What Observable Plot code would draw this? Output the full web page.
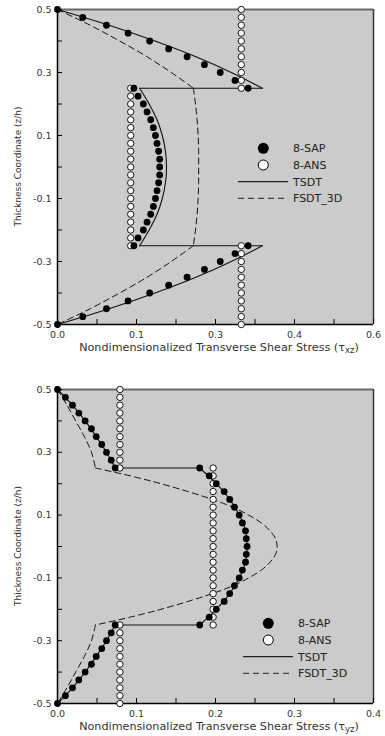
<!DOCTYPE html>
<html><head><meta charset="utf-8">
<script src="https://cdn.jsdelivr.net/npm/d3@7"></script>
<script src="https://cdn.jsdelivr.net/npm/@observablehq/plot@0.6"></script>
<style>
body{margin:0;background:#fff;font-family:"DejaVu Sans",sans-serif;}
.chart{position:relative;width:385px;}
.chart svg{display:block;}
.legend{position:absolute;}
</style></head><body>
<div id="c1" class="chart"></div>
<div id="c2" class="chart"></div>
<script>
// ---- thickness coordinates (z/h) per layer ----
const zTop = [0.5,0.475,0.45,0.425,0.4,0.375,0.35,0.325,0.3,0.275,0.25];
const zMid = [0.25,0.225,0.2,0.175,0.15,0.125,0.1,0.075,0.05,0.025,0,-0.025,-0.05,-0.075,-0.1,-0.125,-0.15,-0.175,-0.2,-0.225,-0.25];
const zBot = [-0.25,-0.275,-0.3,-0.325,-0.35,-0.375,-0.4,-0.425,-0.45,-0.475,-0.5];
const zTopC = [0.5,0.45,0.4,0.35,0.3,0.25];
const zMidC = [0.25,0.2,0.15,0.1,0.05,0,-0.05,-0.1,-0.15,-0.2,-0.25];
const zBotC = [-0.25,-0.3,-0.35,-0.4,-0.45,-0.5];

// ---- chart 1: tau_xz ----
const sapXzTop = [0,0.048,0.093,0.134,0.175,0.211,0.246,0.279,0.309,0.337,0.362];
const sapXzMid = [0.145,0.153,0.163,0.170,0.177,0.182,0.186,0.189,0.192,0.194,0.194,0.194,0.192,0.189,0.186,0.182,0.177,0.170,0.163,0.153,0.145];
const sapXzBot = [0.362,0.337,0.309,0.279,0.246,0.211,0.175,0.134,0.093,0.048,0];
const ansXzTop = [0.349,0.349,0.349,0.349,0.349,0.349,0.349,0.349,0.349,0.349,0.349];
const ansXzMid = [0.139,0.139,0.139,0.139,0.139,0.139,0.139,0.139,0.139,0.139,0.139,0.139,0.139,0.139,0.139,0.139,0.139,0.139,0.139,0.139,0.139];
const ansXzBot = [0.349,0.349,0.349,0.349,0.349,0.349,0.349,0.349,0.349,0.349,0.349];
const tsdtXzTop = [0,0.098,0.185,0.263,0.330,0.389];
const tsdtXzMid = [0.156,0.174,0.189,0.199,0.205,0.207,0.205,0.199,0.189,0.174,0.156];
const tsdtXzBot = [0.389,0.330,0.263,0.185,0.098,0];
const fsdtXzTop = [0,0.062,0.118,0.170,0.216,0.258];
const fsdtXzMid = [0.258,0.262,0.265,0.267,0.268,0.268,0.268,0.267,0.265,0.262,0.258];
const fsdtXzBot = [0.258,0.216,0.170,0.118,0.062,0];
const xzTicks = [0,0.075,0.15,0.225,0.3,0.375,0.45,0.525,0.6];
const xzLabelVals = [0,0.15,0.3,0.45,0.6];
const xzLabels = ["0.0","0.1","0.3","0.4","0.6"];

// ---- chart 2: tau_yz ----
const sapYzTop = [0,0.010,0.019,0.027,0.035,0.043,0.049,0.056,0.062,0.068,0.073];
const sapYzMid = [0.180,0.192,0.201,0.211,0.218,0.224,0.230,0.234,0.238,0.239,0.240,0.239,0.238,0.234,0.230,0.224,0.218,0.211,0.201,0.192,0.180];
const sapYzBot = [0.073,0.068,0.062,0.056,0.049,0.043,0.035,0.027,0.019,0.010,0];
const ansYzTop = [0.079,0.079,0.079,0.079,0.079,0.079,0.079,0.079,0.079,0.079,0.079];
const ansYzMid = [0.197,0.197,0.197,0.197,0.197,0.197,0.197,0.197,0.197,0.197,0.197,0.197,0.197,0.197,0.197,0.197,0.197,0.197,0.197,0.197,0.197];
const ansYzBot = [0.079,0.079,0.079,0.079,0.079,0.079,0.079,0.079,0.079,0.079,0.079];
const tsdtYzTop = [0,0.019,0.035,0.049,0.062,0.073];
const tsdtYzMid = [0.180,0.201,0.218,0.230,0.238,0.240,0.238,0.230,0.218,0.201,0.180];
const tsdtYzBot = [0.073,0.062,0.049,0.035,0.019,0];
const fsdtYzTop = [0,0.012,0.023,0.034,0.043,0.048];
const fsdtYzMid = [0.048,0.092,0.131,0.165,0.196,0.222,0.242,0.258,0.269,0.276,0.278,0.276,0.269,0.258,0.242,0.222,0.196,0.165,0.131,0.092,0.048];
const fsdtYzBot = [0.048,0.043,0.034,0.023,0.012,0];
const yzTicks = [0,0.05,0.1,0.15,0.2,0.25,0.3,0.35,0.4];
const yzLabelVals = [0,0.1,0.2,0.3,0.4];
const yzLabels = ["0.0","0.1","0.2","0.3","0.4"];

// ---- shared y axis ----
const zTicks = [-0.5,-0.4,-0.3,-0.2,-0.1,0,0.1,0.2,0.3,0.4,0.5];
const zLabelVals = [0.5,0.3,0.1,-0.1,-0.3,-0.5];
const zLabels = ["0.5","0.3","0.1","-0.1","-0.3","-0.5"];

const legendNames = ["8-SAP","8-ANS","TSDT","FSDT_3D"];

const rows = (zs, xs, g) => zs.map((z, i) => ({z, x: xs[i], g}));

function draw(el, o) {
  const tsdtRows = [
    ...rows(o.zTC, o.tsdt[0], "t"),
    ...rows([0.25, 0.25], [o.tsdt[0][o.tsdt[0].length-1], o.tsdt[1][0]], "j1"),
    ...rows(o.zMC_t, o.tsdt[1], "m"),
    ...rows([-0.25, -0.25], [o.tsdt[1][o.tsdt[1].length-1], o.tsdt[2][0]], "j2"),
    ...rows(o.zBC, o.tsdt[2], "b")
  ];
  const fsdtRows = [
    ...rows(o.zTC, o.fsdt[0], "t"),
    ...rows(o.zMC_f, o.fsdt[1], "m"),
    ...rows(o.zBC, o.fsdt[2], "b")
  ];
  const sapRows = [...rows(zTop, o.sap[0], "t"), ...rows(zMid, o.sap[1], "m"), ...rows(zBot, o.sap[2], "b")];
  const ansRows = [...rows(zTop, o.ans[0], "t"), ...rows(zMid, o.ans[1], "m"), ...rows(zBot, o.ans[2], "b")];
  const xFmt = new Map(o.xLabelVals.map((v, i) => [v, o.xLabels[i]]));
  const yFmt = new Map(zLabelVals.map((v, i) => [v, zLabels[i]]));
  const xmax = o.xDomain[1];

  const svg = Plot.plot({
    width: 385, height: o.height,
    marginLeft: 57, marginRight: 12, marginTop: o.marginTop, marginBottom: o.marginBottom,
    style: {fontFamily: "DejaVu Sans", fontSize: "9.5px", color: "#333", background: "#fff"},
    x: {domain: o.xDomain},
    y: {domain: [-0.5, 0.5]},
    marks: [
      Plot.frame({fill: "#cbcbcb", stroke: null}),
      Plot.ruleY([0.5], {stroke: "#6a6a6a", strokeWidth: 2}),
      Plot.ruleX([xmax], {stroke: "#333", strokeWidth: 1.5}),
      Plot.ruleX([0], {stroke: "#000", strokeWidth: 1.5}),
      Plot.ruleY([-0.5], {stroke: "#000", strokeWidth: 1.5}),
      Plot.axisY(zTicks, {tickSize: -5, tickFormat: () => "", stroke: "#000", label: null}),
      Plot.axisY(zLabelVals, {tickSize: 0, tickPadding: 6, tickFormat: d => yFmt.get(d), fill: "#333", label: null}),
      Plot.axisX(o.xTicks, {tickSize: -5, tickFormat: () => "", stroke: "#000", label: null}),
      Plot.axisX(o.xLabelVals, {tickSize: 0, tickPadding: 7, tickFormat: d => xFmt.get(d), fill: "#333", label: null}),
      Plot.line(fsdtRows, {x: "x", y: "z", z: "g", curve: "catmull-rom", stroke: "#111", strokeWidth: 1, strokeDasharray: "6,4"}),
      Plot.line(tsdtRows, {x: "x", y: "z", z: "g", curve: "catmull-rom", stroke: "#111", strokeWidth: 1.1}),
      Plot.dot(ansRows, {x: "x", y: "z", r: 3.2, fill: "#fff", stroke: "#000", strokeWidth: 0.9}),
      Plot.dot(sapRows, {x: "x", y: "z", r: 3.4, fill: "#000", stroke: "none"})
    ]
  });
  const s = d3.select(svg);
  const cx = o.titleX, ty = o.height - o.marginBottom + 27;
  const xt = s.append("text").attr("x", cx).attr("y", ty).attr("text-anchor", "middle")
    .attr("font-size", 11.2).attr("fill", "#333").attr("font-family", "DejaVu Sans");
  xt.append("tspan").text("Nondimensionalized Transverse Shear Stress (τ");
  xt.append("tspan").attr("font-size", 8.5).attr("dy", 2).text(o.sub);
  xt.append("tspan").attr("dy", -2).text(")");
  const cy = (o.marginTop + o.height - o.marginBottom) / 2;
  s.append("text").attr("transform", `translate(18,${cy}) rotate(-90)`).attr("text-anchor", "middle")
    .attr("dy", "0.35em")
    .attr("font-size", 9).attr("fill", "#333").attr("font-family", "DejaVu Sans")
    .text("Thickness Coordinate (z/h)");
  el.appendChild(svg);

  // legend
  const lg = d3.select(el).append("svg").attr("class", "legend")
    .attr("width", 150).attr("height", 72)
    .style("left", o.legLeft + "px").style("top", o.legTop + "px");
  lg.append("circle").attr("cx", 33.3).attr("cy", 10.3).attr("r", 5.5).attr("fill", "#000");
  lg.append("circle").attr("cx", 33.3).attr("cy", 27).attr("r", 5).attr("fill", "#fff").attr("stroke", "#000").attr("stroke-width", 1);
  lg.append("line").attr("x1", 8).attr("x2", 58).attr("y1", 43.7).attr("y2", 43.7).attr("stroke", "#222").attr("stroke-width", 1.2);
  lg.append("line").attr("x1", 8).attr("x2", 58).attr("y1", 60.3).attr("y2", 60.3).attr("stroke", "#222").attr("stroke-width", 1).attr("stroke-dasharray", "6,4");
  [10.3, 27, 43.7, 60.3].forEach((y, i) => {
    lg.append("text").attr("x", 63).attr("y", y).attr("dy", "0.36em").attr("font-size", 11)
      .attr("fill", "#222").attr("font-family", "DejaVu Sans").text(legendNames[i]);
  });
}

draw(document.getElementById("c1"), {
  height: 360, marginTop: 9, marginBottom: 36, xDomain: [0, 0.6],
  xTicks: xzTicks, xLabelVals: xzLabelVals, xLabels: xzLabels,
  sap: [sapXzTop, sapXzMid, sapXzBot], ans: [ansXzTop, ansXzMid, ansXzBot],
  tsdt: [tsdtXzTop, tsdtXzMid, tsdtXzBot], fsdt: [fsdtXzTop, fsdtXzMid, fsdtXzBot],
  zTC: zTopC, zMC_t: zMidC, zMC_f: zMidC, zBC: zBotC,
  sub: "xz", titleX: 219, legLeft: 230, legTop: 138
});
draw(document.getElementById("c2"), {
  height: 376, marginTop: 29, marginBottom: 33, xDomain: [0, 0.4],
  xTicks: yzTicks, xLabelVals: yzLabelVals, xLabels: yzLabels,
  sap: [sapYzTop, sapYzMid, sapYzBot], ans: [ansYzTop, ansYzMid, ansYzBot],
  tsdt: [tsdtYzTop, tsdtYzMid, tsdtYzBot], fsdt: [fsdtYzTop, fsdtYzMid, fsdtYzBot],
  zTC: zTopC, zMC_t: zMidC, zMC_f: zMid, zBC: zBotC,
  sub: "yz", titleX: 219, legLeft: 235, legTop: 253
});
</script></body></html>
